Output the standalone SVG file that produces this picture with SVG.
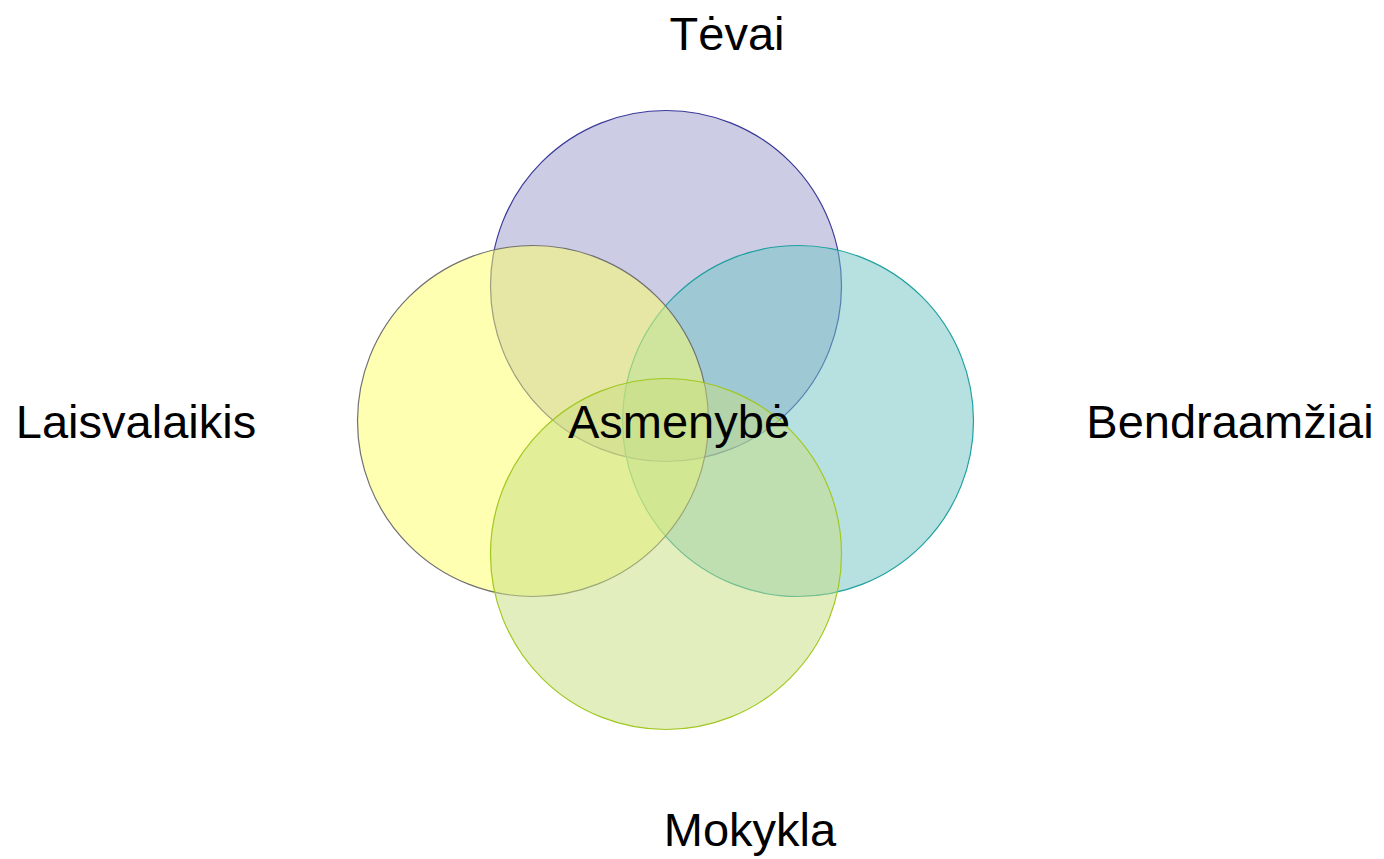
<svg xmlns="http://www.w3.org/2000/svg" width="1384" height="859" viewBox="0 0 1384 859">
<style>
text{font-family:"Liberation Sans",Arial,sans-serif;font-size:47px;fill:#000}
circle{fill-opacity:0.5;stroke-width:1.2}
</style>
<rect width="1384" height="859" fill="#fff"/>
<g id="tevai"><circle cx="666" cy="286" r="175.5" fill="#9999cc" stroke="#3a3a9a"/></g>
<g id="bendraamziai"><circle cx="798" cy="421" r="175.5" fill="#70c4c4" stroke="#20a0a0"/></g>
<g id="laisvalaikis"><circle cx="533" cy="421" r="175.5" fill="#ffff66" stroke="#707070"/></g>
<g id="mokykla"><circle cx="666" cy="554" r="175.5" fill="#c8dd80" stroke="#a0c820"/></g>
<g id="labels">
<text x="727" y="50" text-anchor="middle">Tėvai</text>
<text x="679" y="438" text-anchor="middle">Asmenybė</text>
<text x="136" y="438" text-anchor="middle">Laisvalaikis</text>
<text x="1230" y="438" text-anchor="middle">Bendraamžiai</text>
<text x="750" y="846" text-anchor="middle">Mokykla</text>
</g>
</svg>
